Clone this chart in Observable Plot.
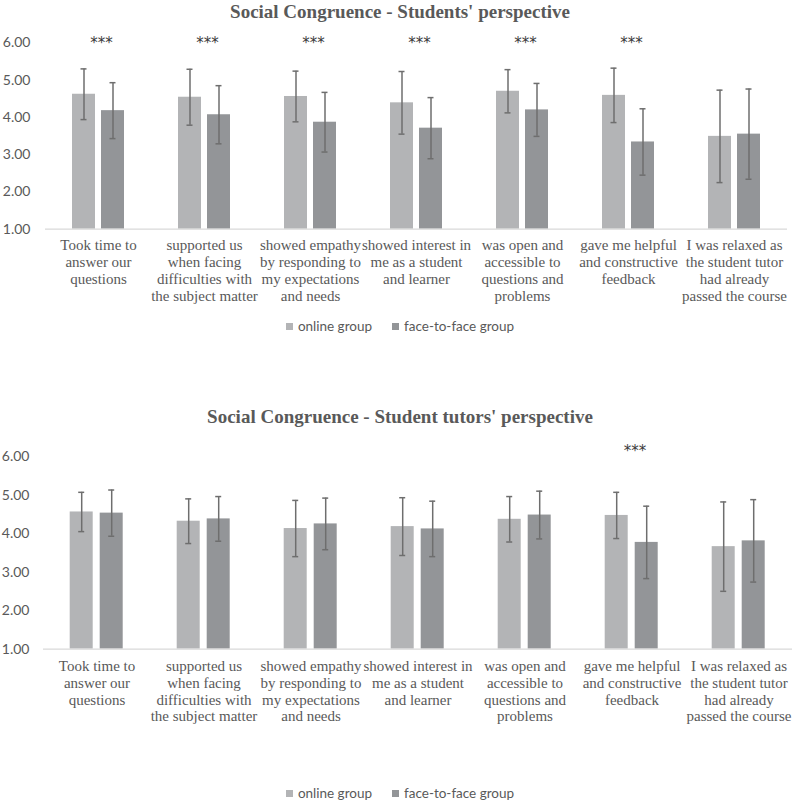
<!DOCTYPE html>
<html><head><meta charset="utf-8">
<script src="https://cdn.jsdelivr.net/npm/d3@7"></script>
<script src="https://cdn.jsdelivr.net/npm/@observablehq/plot@0.6"></script>
<style>
body{margin:0;background:#fff;}
#wrap{position:relative;width:800px;height:803px;overflow:hidden;background:#fff;}
.title{position:absolute;left:0;width:800px;text-align:center;font-family:"Liberation Serif",serif;font-weight:bold;font-size:19px;line-height:24px;color:#595959;}
.legend{position:absolute;left:0;width:800px;display:flex;justify-content:center;gap:20px;font-family:Lato,sans-serif;font-size:13.5px;line-height:16px;color:#595959;}
.legend span.item{display:flex;align-items:center;}
.sw{display:inline-block;width:7px;height:7px;margin-right:5px;}
.chart{position:absolute;left:0;}
.chart g[aria-label="fx-axis tick label"], .chart g[aria-label="fx-axis tick label"] text{font-family:"Liberation Serif",serif !important;font-size:15px !important;}
.chart g[aria-label="y-axis tick label"], .chart g[aria-label="y-axis tick label"] text{font-family:Lato,sans-serif !important;font-size:14px !important;}
</style></head>
<body><div id="wrap"></div>
<script>
// ---------- data ----------
const categories = [
  "Took time to answer our questions",
  "supported us when facing difficulties with the subject matter",
  "showed empathy by responding to my expectations and needs",
  "showed interest in me as a student and learner",
  "was open and accessible to questions and problems",
  "gave me helpful and constructive feedback",
  "I was relaxed as the student tutor had already passed the course"
];
const tickLabels = [
  "Took time to\nanswer our\nquestions",
  "supported us\nwhen facing\ndifficulties with\nthe subject matter",
  "showed empathy\nby responding to\nmy expectations\nand needs",
  "showed interest in\nme as a student\nand learner",
  "was open and\naccessible to\nquestions and\nproblems",
  "gave me helpful\nand constructive\nfeedback",
  "I was relaxed as\nthe student tutor\nhad already\npassed the course"
];
const groups = ["online group", "face-to-face group"];
const yTicks = [1, 2, 3, 4, 5, 6];

// Students' perspective
const studentsOnline   = [4.62, 4.54, 4.56, 4.39, 4.70, 4.59, 3.49];
const studentsOnlineSd = [0.68, 0.75, 0.68, 0.84, 0.58, 0.73, 1.24];
const studentsFace     = [4.18, 4.07, 3.87, 3.71, 4.20, 3.34, 3.55];
const studentsFaceSd   = [0.75, 0.78, 0.80, 0.82, 0.71, 0.89, 1.21];
const studentsSig      = [true, true, true, true, true, true, false];

// Student tutors' perspective
const tutorsOnline   = [4.56, 4.32, 4.13, 4.18, 4.37, 4.47, 3.66];
const tutorsOnlineSd = [0.51, 0.58, 0.73, 0.75, 0.59, 0.60, 1.16];
const tutorsFace     = [4.53, 4.38, 4.25, 4.12, 4.48, 3.77, 3.81];
const tutorsFaceSd   = [0.60, 0.58, 0.67, 0.72, 0.62, 0.94, 1.07];
const tutorsSig      = [false, false, false, false, false, true, false];

// ---------- styling ----------
const barColors = ["#b3b4b6", "#939598"];
const errColor = "#6e6e6e";
const textColor = "#595959";

function makeChart(o) {
  const rows = categories.flatMap((c, i) => [
    {cat: c, group: groups[0], mean: o.online[i], sd: o.onlineSd[i]},
    {cat: c, group: groups[1], mean: o.face[i], sd: o.faceSd[i]}
  ]);
  const sigRows = categories.filter((c, i) => o.sig[i]).map(c => ({cat: c}));
  return Plot.plot({
    width: 800,
    height: o.height,
    marginTop: o.marginTop,
    marginBottom: o.marginBottom,
    marginLeft: o.marginLeft,
    marginRight: o.marginRight,
    style: {background: "transparent", color: textColor},
    fx: {domain: categories, padding: 0, label: null},
    x: {domain: groups, paddingInner: o.padInner, paddingOuter: o.padOuter, axis: null},
    y: {domain: [1, 6], label: null},
    color: {domain: groups, range: barColors},
    marks: [
      Plot.axisY({ticks: yTicks, tickFormat: d3.format(".2f"), tickSize: 0, tickPadding: o.yPad,
        fontSize: 14, fontFamily: "Lato, sans-serif", label: null}),
      Plot.axisFx({anchor: "bottom", tickSize: 0, tickPadding: o.fxPad, label: null,
        tickFormat: d => tickLabels[categories.indexOf(d)],
        fontSize: 15, fontFamily: "Liberation Serif, serif", lineHeight: 1.12}),
      Plot.barY(rows, {fx: "cat", x: "group", y1: 1, y2: "mean", fill: "group"}),
      Plot.ruleY([1], {stroke: "#d9d9d9", strokeWidth: 1.2}),
      Plot.ruleX(rows, {fx: "cat", x: "group", y1: d => d.mean - d.sd, y2: d => d.mean + d.sd,
        stroke: errColor, strokeWidth: 1.5}),
      Plot.tickY(rows, {fx: "cat", x: "group", y: d => d.mean - d.sd, stroke: errColor,
        strokeWidth: 1.5, insetLeft: 8.5, insetRight: 8.5}),
      Plot.tickY(rows, {fx: "cat", x: "group", y: d => d.mean + d.sd, stroke: errColor,
        strokeWidth: 1.5, insetLeft: 8.5, insetRight: 8.5}),
      Plot.text(sigRows, {fx: "cat", y: () => o.starY, text: () => "***", dx: 3,
        fontSize: 15, fontFamily: "DejaVu Sans, sans-serif", fill: "#3a3a3a", lineAnchor: "middle"})
    ]
  });
}

function legend(top) {
  const d = document.createElement("div");
  d.className = "legend";
  d.style.top = top + "px";
  groups.forEach((g, i) => {
    const it = document.createElement("span");
    it.className = "item";
    const sw = document.createElement("span");
    sw.className = "sw";
    sw.style.background = barColors[i];
    it.appendChild(sw);
    it.appendChild(document.createTextNode(g));
    d.appendChild(it);
  });
  return d;
}

function title(text, top) {
  const d = document.createElement("div");
  d.className = "title";
  d.style.top = top + "px";
  d.textContent = text;
  return d;
}

const wrap = document.getElementById("wrap");

const c1 = makeChart({
  online: studentsOnline, onlineSd: studentsOnlineSd, face: studentsFace, faceSd: studentsFaceSd,
  sig: studentsSig, height: 310, marginTop: 42.3, marginBottom: 81.3, marginLeft: 42, marginRight: 11,
  padInner: 0.2, padOuter: 0.878, yPad: 15, fxPad: 9, starY: 6.0
});
c1.classList.add("chart");
c1.style.top = "0px";
wrap.appendChild(c1);
wrap.appendChild(title("Social Congruence - Students' perspective", 0));
wrap.appendChild(legend(318));

const c2 = makeChart({
  online: tutorsOnline, onlineSd: tutorsOnlineSd, face: tutorsFace, faceSd: tutorsFaceSd,
  sig: tutorsSig, height: 340, marginTop: 56, marginBottom: 91.4, marginLeft: 39.3, marginRight: 5,
  padInner: 0.226, padOuter: 0.855, yPad: 14, fxPad: 10, starY: 6.14
});
c2.classList.add("chart");
c2.style.top = "400px";
wrap.appendChild(c2);
wrap.appendChild(title("Social Congruence - Student tutors' perspective", 405));
wrap.appendChild(legend(785));
</script>
</body></html>
